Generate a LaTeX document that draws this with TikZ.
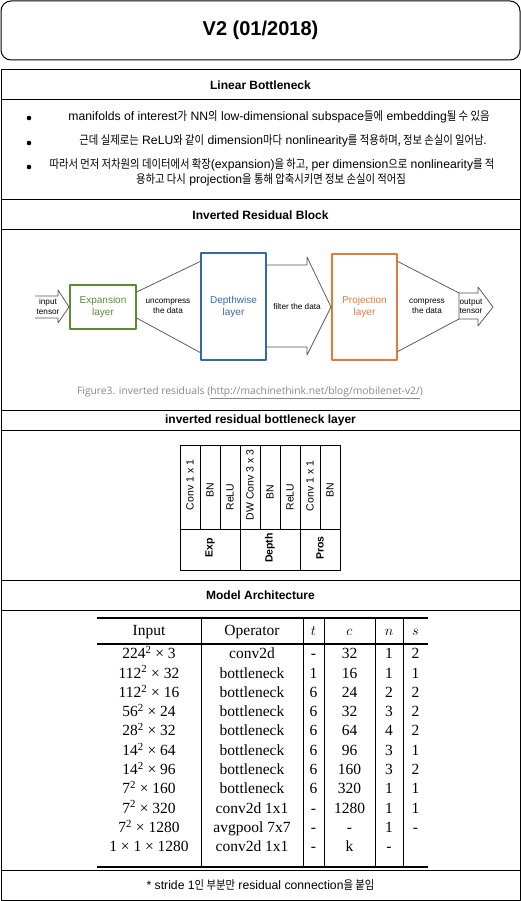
\documentclass[tikz,border=0pt]{standalone}
\usepackage{fontspec}
\setmainfont{Liberation Sans}
\newfontfamily\krfont[Scale=0.98,FakeStretch=0.864]{Noto Sans CJK KR}
\newfontfamily\capfont{Open Sans}
\newfontfamily\tmsfont{Liberation Serif}
\newcommand\kr[1]{{\krfont #1}}
\newcommand\sq[1]{#1\textsuperscript{2}}
\definecolor{expgreen}{RGB}{88,140,48}
\definecolor{dwblue}{RGB}{52,105,168}
\definecolor{projorange}{RGB}{228,122,58}
\definecolor{figline}{RGB}{85,85,85}
\definecolor{capgray}{RGB}{135,135,135}
\begin{document}
\begin{tikzpicture}[x=1pt,y=-1pt,line join=round]
\useasboundingbox (0,0) rectangle (521,901);
\tikzset{
  sect/.style={draw=black,line width=1pt,minimum width=519pt,inner sep=0pt},
  hdr/.style={sect,font=\fontsize{12}{14}\selectfont\bfseries},
  body/.style={inner sep=0pt,font=\fontsize{12.2}{15}\selectfont},
  figtxt/.style={inner sep=0pt,align=center,font=\fontsize{8.2}{9.5}\selectfont},
  layertxt/.style={inner sep=0pt,align=center,font=\fontsize{10.5}{12.5}\selectfont},
  layerbox/.style={draw=black,line width=1pt,minimum width=84pt,minimum height=20pt},
  tline/.style={draw=black,line width=0.8pt},
  tcell/.style={inner sep=0pt,text height=11pt,text depth=3.5pt,font=\tmsfont\fontsize{15.5}{17}\selectfont},
  figpath/.style={draw=figline,line width=0.75pt}
}
% title
\node[draw=black,line width=1pt,rounded corners=10pt,minimum width=519pt,minimum height=59pt,inner sep=0pt,
      font=\fontsize{20}{24}\selectfont\bfseries] (title) at (260.5,30.5) {V2 (01/2018)};
% sections
\node[hdr,minimum height=30pt] (h1) at (260.5,85) {Linear Bottleneck};
\node[sect,minimum height=100pt] (s1) at (260.5,150) {};
\node[hdr,minimum height=30pt] (h2) at (260.5,215) {Inverted Residual Block};
\node[sect,minimum height=180pt] (s2) at (260.5,320) {};
\node[hdr,minimum height=20pt] (h3) at (260.5,420) {inverted residual bottleneck layer};
\node[sect,minimum height=150pt] (s3) at (260.5,505) {};
\node[hdr,minimum height=30pt] (h4) at (260.5,595) {Model Architecture};
\node[sect,minimum height=260pt] (s4) at (260.5,740) {};
\node[sect,minimum height=30pt,font=\fontsize{12.2}{15}\selectfont] (foot) at (260.5,885)
  {* stride 1\kr{인 부분만} residual connection\kr{을 붙임}};

% bullets
\fill (29,118) circle (2.3pt) node[coordinate] (b1) {};
\fill (29,143) circle (2.3pt) node[coordinate] (b2) {};
\fill (29,167) circle (2.3pt) node[coordinate] (b3) {};
\node[body] (l1) at (279,117) {manifolds of interest\kr{가} NN\kr{의} low-dimensional subspace\kr{들에} embedding\kr{될 수 있음}};
\node[body] (l2) at (283,141) {\kr{근데 실제로는} ReLU\kr{와 같이} dimension\kr{마다} nonlinearity\kr{를 적용하며, 정보 손실이 일어남.}};
\node[body] (l3) at (272,164.5) {\kr{따라서 먼저 저차원의 데이터에서 확장}(expansion)\kr{을 하고,} per dimension\kr{으로} nonlinearity\kr{를 적}};
\node[body] (l4) at (271,180) {\kr{용하고 다시} projection\kr{을 통해 압축시키면 정보 손실이 적어짐}};

% inverted residual figure
\draw[figpath] (35,296) -- (58,296) -- (58,290) -- (69,307) -- (58,323) -- (58,318) -- (35,318);
\node[figtxt] (intxt) at (48,306.5) {input\\tensor};
\node[draw=expgreen,line width=1.2pt,minimum width=66pt,minimum height=44pt,inner sep=0pt,
      text=expgreen,align=center,font=\fontsize{10}{12}\selectfont] (exp) at (103,307) {Expansion\\layer};
\node[draw=dwblue,line width=1.2pt,minimum width=65pt,minimum height=107pt,inner sep=0pt,
      text=dwblue,align=center,font=\fontsize{10}{12}\selectfont] (dw) at (233.5,306.5) {Depthwise\\layer};
\node[draw=projorange,line width=1.2pt,minimum width=65pt,minimum height=106pt,inner sep=0pt,
      text=projorange,align=center,font=\fontsize{10}{12}\selectfont] (proj) at (364.5,307) {Projection\\layer};
\draw[figpath] ([yshift=15pt]exp.east) -- ([yshift=-9pt]dw.north west);
\draw[figpath] ([yshift=-11pt]exp.east) -- ([yshift=8pt]dw.south west);
\node[figtxt] (unc) at (168,306.5) {uncompress\\the data};
\draw[figpath] (dw.east |- 0,265) -- (307,265) -- (307,257) -- (331,307) -- (307,355) -- (307,347) -- (dw.east |- 0,347);
\node[figtxt] (filt) at (297,307) {filter the data};
\coordinate (otop) at (459,293);
\coordinate (obot) at (459,319);
\draw[figpath] (otop) -- (478,293) -- (478,287) -- (493,307) -- (478,326) -- (478,319) -- (obot) -- cycle;
\draw[figpath] ([yshift=-8pt]proj.north east) -- (otop);
\draw[figpath] ([yshift=9pt]proj.south east) -- (obot);
\node[figtxt] (comp) at (427,306.5) {compress\\the data};
\node[figtxt] (outtxt) at (471,306.5) {output\\tensor};
\node[inner sep=0pt,text=capgray,font=\capfont\fontsize{10.3}{12}\selectfont] (cap) at (250,393)
  {Figure3. inverted residuals (\underline{http://machinethink.net/blog/mobilenet-v2/})};

% layer diagram
\foreach \x/\nm in {190/c1,210/c2,230/c3,250/c4,270/c5,290/c6,310/c7,330/c8}{
  \node[layerbox,rotate=90] (\nm) at (\x,487) {};
}
\node[draw=black,line width=1pt,minimum width=60pt,minimum height=41pt,inner sep=0pt] (gexp) at (210,549.5) {};
\node[draw=black,line width=1pt,minimum width=60pt,minimum height=41pt,inner sep=0pt] (gdep) at (270,549.5) {};
\node[draw=black,line width=1pt,minimum width=40pt,minimum height=41pt,inner sep=0pt] (gpro) at (320,549.5) {};
\node[layertxt,rotate=90] (t1) at (190,485) {Conv 1 x 1};
\node[layertxt,rotate=90] (t2) at (210,490) {BN};
\node[layertxt,rotate=90] (t3) at (230,497) {ReLU};
\node[layertxt,rotate=90] (t4) at (250,485) {DW Conv 3 x 3};
\node[layertxt,rotate=90] (t5) at (270,492) {BN};
\node[layertxt,rotate=90] (t6) at (290,497) {ReLU};
\node[layertxt,rotate=90] (t7) at (310,486) {Conv 1 x 1};
\node[layertxt,rotate=90] (t8) at (330,490) {BN};
\node[layertxt,rotate=90,font=\fontsize{10.5}{12.5}\selectfont\bfseries] (e1) at (210,548) {Exp};
\node[layertxt,rotate=90,font=\fontsize{10.5}{12.5}\selectfont\bfseries] (e2) at (270,548) {Depth};
\node[layertxt,rotate=90,font=\fontsize{10.5}{12.5}\selectfont\bfseries] (e3) at (320,548) {Pros};

% table
\coordinate (ttl) at (97,618);
\coordinate (ttr) at (428,618);
\coordinate (thl) at (97,644);
\coordinate (thr) at (428,644);
\coordinate (tbl) at (97,867);
\coordinate (tbr) at (428,867);
\draw[black,line width=2pt] (ttl) -- (ttr);
\draw[black,line width=1.6pt] (thl) -- (thr);
\draw[black,line width=2pt] (tbl) -- (tbr);
\foreach \x in {201,303,324,375,403}{
  \draw[tline] (\x,619) -- (\x,866);
}
\node[tcell] (hin) at (149,632) {Input};
\node[tcell] (hop) at (252,632) {Operator};
\node[tcell,font=\fontsize{15.5}{17}\selectfont] (ht) at (313.5,632) {$t$};
\node[tcell,font=\fontsize{15.5}{17}\selectfont] (hc) at (349.5,632) {$c$};
\node[tcell,font=\fontsize{15.5}{17}\selectfont] (hn) at (389,632) {$n$};
\node[tcell,font=\fontsize{15.5}{17}\selectfont] (hs) at (415.5,632) {$s$};
\foreach \a/\b/\c/\d/\e/\f [count=\i from 0] in {
  {\sq{224} × 3}/conv2d/-/32/1/2,
  {\sq{112} × 32}/bottleneck/1/16/1/1,
  {\sq{112} × 16}/bottleneck/6/24/2/2,
  {\sq{56} × 24}/bottleneck/6/32/3/2,
  {\sq{28} × 32}/bottleneck/6/64/4/2,
  {\sq{14} × 64}/bottleneck/6/96/3/1,
  {\sq{14} × 96}/bottleneck/6/160/3/2,
  {\sq{7} × 160}/bottleneck/6/320/1/1,
  {\sq{7} × 320}/conv2d 1x1/-/1280/1/1,
  {\sq{7} × 1280}/avgpool 7x7/-/-/1/-,
  {1 × 1 × 1280}/conv2d 1x1/-/k/-/{}}{
  \pgfmathsetmacro\yy{655+19.3*\i}
  \node[tcell] (ra\i) at (149,\yy) {\a};
  \node[tcell] (rb\i) at (252,\yy) {\b};
  \node[tcell] (rc\i) at (313.5,\yy) {\c};
  \node[tcell] (rd\i) at (349.5,\yy) {\d};
  \node[tcell] (re\i) at (389,\yy) {\e};
  \node[tcell] (rf\i) at (415.5,\yy) {\f};
}
\end{tikzpicture}
\end{document}
